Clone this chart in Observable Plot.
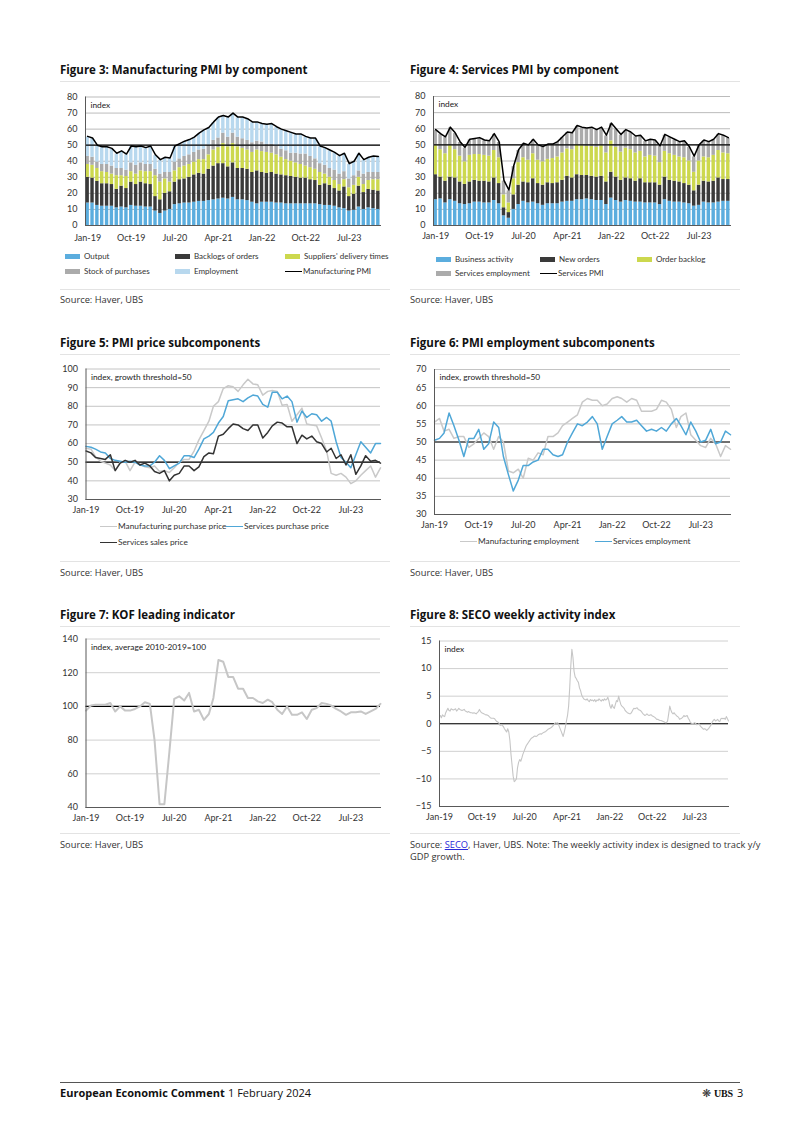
<!DOCTYPE html>
<html><head><meta charset="utf-8">
<script src="https://cdn.jsdelivr.net/npm/d3@7"></script>
<script src="https://cdn.jsdelivr.net/npm/@observablehq/plot@0.6"></script>
<style>
html,body{margin:0;padding:0;background:#fff;}
#page{position:relative;width:802px;height:1134px;overflow:hidden;font-family:"Open Sans","Noto Sans",sans-serif;color:#222;background:#fff;}
.abs{position:absolute;white-space:nowrap;}
.title{font-weight:700;font-size:11.5px;color:#111;}
.rule{position:absolute;height:0;border-top:1px solid #e3e3e3;}
.src{font-size:9.3px;color:#333;}
.leg{font-family:Lato,sans-serif;font-size:8px;color:#333;display:flex;align-items:center;}
.sw{display:inline-block;margin-right:4px;flex:none;}
#page svg{position:absolute;}
.foot{font-size:11px;color:#111;}
</style></head><body><div id="page"></div>
<script>
// ---------------- DATA ----------------
const tickLabels = ["Jan-19","Oct-19","Jul-20","Apr-21","Jan-22","Oct-22","Jul-23"];

// Figure 3: Manufacturing PMI components (contribution, Jan-19 .. Jan-24)
const mfgSeries = ["Output","Backlogs of orders","Suppliers' delivery times","Stock of purchases","Employment"];
const mfgOutput = [14,14,12.5,12,12,12,11,11.5,11,12.5, 12,12,11.5,11.5,9,7.5,9,10,13,13.5, 14,14,14.5,15,15,15.5,16,16.5,17,16.5, 17.5,16,16,15.5,14.5,13.5,14.5,14.5,14.5,14, 14,13.5,13.5,13.5,13.5,13.5,13.5,13.5,13,12.5, 12.5,12,11,10.5,9,9.5,11.5,10,11,10.5, 10];
const mfgBacklogs = [16,15.5,15,14,14,13.5,11.5,13,12,14.5, 13.5,15,14.5,14,9,8.5,11,11,14,15, 15,16,17,17.5,17,19.5,21,22,21.5,20, 21.5,19.5,19.5,19.5,18.5,20.5,18.5,18,18.5,18, 17.5,17.5,17,16.5,16,16,15,14.5,12,13.5, 12.5,11,10.5,13.5,9,10,13,10.5,11.5,11.5, 11.5];
const mfgDelivery = [8,8,8,7.5,7,6.5,8.5,6.5,7.5,6.5, 6.5,7,7.5,8,13,11,9,6,7,7.5, 8,8,8,8.5,9,9,10,10,12.5,12.5, 12,13.5,12.5,12,12.5,13,13,13,12,12, 11,10,9.5,9,8.5,7.5,7.5,7,8,6, 5,5,4,4.5,5.5,5.5,5.5,5,5.5,6.5, 7];
const mfgStock = [5,5,4,4.5,5,5,4.5,4.5,4,5.5, 5.5,5,4.5,4.5,4,5,4,6,5.5,5.5, 6,6,6,6,6.5,6,6,6,6.5,6, 6.5,6,6,6,6,5.5,6,5,5.5,5.5, 5,5.5,5,6,6.5,7.5,7,6.5,5.5,5.5, 5.5,6.5,6.5,5,5.5,6,4,6.5,5,4.5, 4.5];
const mfgEmployment = [12,11.5,10,10.5,10.5,10.5,9,10.5,9.5,10, 11,10,10,11,8.5,8.5,9,8.5,9.5,9, 9,9,9,10,11.5,10.5,11,12.5,10.5,12, 12,12,13,13,12.5,11.5,11,12,12.5,11.5, 12,12,12.5,11.5,12,10.5,11,12.5,10.5,10.5, 11,10.5,11,11,9,8.5,10.5,8.5,9,10, 10];
const mfgPMI = [55.5,54.5,50,49,49,48,45,46.5,44.5,49.5, 49,49.5,48.5,49.5,44,41,42.5,42,49.5,51, 52.5,53.5,55,57.5,59.5,61,64.5,67.5,68.5,67.5, 70,67.5,67.5,66.5,64.5,64.5,63.5,63,63.5,61.5, 60,59,58,57,57,55.5,54.5,54.5,49.5,48.5, 47,45.5,43.5,45,38.5,40,45,41,42.5,43.3, 43];

// Figure 4: Services PMI components
const svcSeries = ["Business activity","New orders","Order backlog","Services employment"];
const svcBusiness = [16,16.5,14,16,15,13.5,13,13.5,14.5,14.5, 14,14,15.5,13.5,6,4.5,10,13,15,14, 14.5,13.5,12.5,13.5,13.5,13.5,14.5,15,15,16, 16,16.5,16,15.5,15.5,13,17,15.5,14.5,15.5, 15,14.5,14.5,14,14,14,13,16,15,14.5, 14.5,14,13.5,12,12.5,14.5,14,14,14.5,15, 15];
const svcNewOrders = [15.5,13.5,13.5,14,14.5,13.5,12.5,13.5,13.5,13, 13.5,13,14,12.5,5,3.5,9,12,12,12.5, 14.5,12.5,12.5,13,12.5,13,13.5,15.5,14.5,15.5, 15,14.5,14.5,14.5,15,14,16,14.5,13.5,14, 14,13,14.5,12.5,12.5,12.5,12,14,13,13, 12.5,12,11.5,9.5,12.5,13,13,13.5,15,13.5, 13.5];
const svcBacklog = [18,17,17,19.5,17.5,16,14,16.5,16,16.5, 16,16,17,16,8,6,10,14,15,14, 15.5,14.5,14.5,14.5,15.5,16,17,17,17.5,18.5, 18.5,18,18.5,18.5,19,18,19.5,18.5,17.5,18.5, 18,17.5,17,16,17,16.5,14,16,16.5,16, 15.5,16,15,11.5,15,15,15,16,17,16.5, 16];
const svcEmployment = [9.5,9.5,10,11,10,8.5,8.5,9.5,9.5,10, 9,9,10,9.5,8.5,7.5,7.5,7.5,8.5,9, 8.5,9,9,9,8.5,9,9.5,10,10,11.5, 11,11,11.5,10.5,11,10.5,10.5,11,10.5,11, 10.5,10,9.5,9.5,9.5,9.5,10,10,10,9.5, 9,10,8.5,9.5,9.5,10,9.5,9.5,10,10.5, 9.5];
const svcPMI = [59.5,57,55,61,57.5,52,48.5,53.5,54,54.5, 53,52.5,57,52,28,22,37,47,51,50, 53.5,50,49,50.5,50.5,52,55,58,57.5,62, 61,60.5,61,59.5,61,56,63.5,60,56.5,59.5, 58,55.5,56,52.5,53.5,53,49.5,56.5,55,53.5, 52,52.5,49,43,50,53,52,53.5,57,56, 54.5];

// Figure 5: PMI price subcomponents
const priceSeries = ["Manufacturing purchase price","Services purchase price","Services sales price"];
const mfgPurchasePrice = [57.5,57,53,50.5,49.5,48.5,45.5,50,50.5,45.5, 50,49,47.5,47,48,45,45.5,44.5,47,50, 51.5,51.5,56,62,67,72,80,82.5,89.5,91, 90.5,88,91.5,94.5,92,91.5,86,88,88.5,88, 80.5,81,72,75.5,79,70.5,70,69.5,63,56, 44,43,44,42,38.5,40,43,45.5,48,42, 47];
const svcPurchasePrice = [58.5,58,57,55.5,55,52,51,50.5,50,50.5, 50,48.5,48,48,50,53.5,51,46.5,48,49.5, 53.5,53.5,52.5,57,62.5,64,66,71,74.5,83, 83.5,84,82.5,84.5,86,85.5,81,79.5,87.5,87.5, 84,85.5,82.5,71.5,77.5,74,76,75.5,72,74, 72,61,52.5,50,47,54,61,58,55,60, 60];
const svcSalesPrice = [56,55,52.5,52,51.5,54,45.5,49.5,51,50, 51,48.5,49.5,48,45,44,45.5,40,43,44, 48,48,45.5,47.5,53,55,54.5,64,65,68, 70.5,70,68,67,70,70,63,66,69.5,71.5, 71,69,69,60,64.5,62.5,64,61,60,55.5, 57.5,52,54,48.5,54,43.5,48,53.5,50.5,51, 49.5];

// Figure 6: PMI employment subcomponents
const empSeries = ["Manufacturing employment","Services employment"];
const mfgEmp = [55.5,56.5,53,53.5,51,51.5,51.5,48.5,49.5,51, 52.5,51.5,48,51.5,50,42,41.5,42.5,40,45.5, 45,47,46.5,51.5,51.5,52.5,54.5,55.5,56.5,57.5, 61,62,61.5,61.5,60,60.5,62,62.5,62,61, 62,61.5,58.5,58.5,58.5,59,61.5,61,59,54, 57,58,52,50.5,49,48.5,51,49.5,46,49, 48];
const svcEmp = [50.5,51,52.5,58,54.5,50.5,46,51,51,53.5, 48,49.5,55.5,54,46,41,36.5,39.5,43.5,43.5, 44.5,45,48,48,46.5,46,46.5,50,52.5,55, 54.5,55.5,57,55,48,51.5,55,56,57,55.5, 55.5,56,54.5,53,53.5,53,54,53,55,56.5, 54.5,52,55.5,53,50,50.5,53.5,49.5,50,53, 52];

// Figure 7: KOF economic barometer
const kof = [97.5,100.5,101,101,101,102,97,100,97.5,97.5, 98.5,100,102.5,101.5,80,42,42,73,104.5,106, 103.5,108,97,98,92,95.5,105,127.5,126.5,117.5, 117.5,110.5,110.5,105,105,103,102,104,102.5,98, 95.5,100,95,95,96.5,92.5,98,99,102,101.5, 100.5,98.5,97,95,96.5,96.5,97,95.5,97,98.5, 101.5];

// Figure 8: SECO weekly economic activity index (weekly, from 6 Jan 2019)
const seco = [1.5,1.1,1.6,1.4,1.3,2.0,2.4,2.8,2.4,2.3, 2.7,2.6,2.5,2.6,2.7,2.3,2.5,2.8,2.6,2.5,
 2.4,2.5,2.6,2.3,2.2,2.1,2.2,2.1,2.0,2.0, 1.9,2.0,1.9,1.8,2.0,2.2,2.6,2.2,2.0,1.9,
 1.8,1.7,1.6,1.6,1.5,1.3,1.1,1.0,1.0,1.0, 0.9,0.6,0.4,0.3,0.1,-0.3,-0.2,-0.3,-0.5,-0.9,
 -1.2,-1.5,-0.9,-1.5,-3.0,-5.5,-7.5,-9.5,-10.5,-10.3, -10.0,-8.0,-7.0,-6.5,-6.8,-6.2,-5.5,-5.0,-4.5,-4.0,
 -3.7,-3.4,-3.1,-2.8,-2.6,-2.5,-2.3,-2.2,-2.3,-2.2, -2.0,-1.9,-1.8,-1.9,-1.7,-1.6,-1.5,-1.4,-1.2,-1.0,
 -0.9,-0.8,-0.7,-0.5,-0.3,0.0,0.2,0.1,0.2,-0.3, -0.8,-1.3,-1.8,-2.3,-1.5,-0.6,0.5,1.5,3.2,6.5,
 10.5,13.5,12.0,9.5,8.5,8.2,7.8,7.5,6.5,6.0, 5.2,4.8,4.5,4.4,4.3,4.5,4.2,4.0,4.4,4.2,
 4.3,4.1,4.4,4.0,4.3,4.2,4.5,4.3,4.1,4.4, 4.2,4.5,4.3,4.4,4.8,4.2,3.2,2.8,3.5,3.0,
 2.8,3.5,4.2,4.0,5.0,4.2,3.5,3.2,3.0,2.8, 2.4,2.2,2.0,1.9,1.8,1.8,2.1,2.5,2.8,2.7,
 2.8,2.9,2.6,2.5,2.4,2.2,1.9,1.7,1.5,1.6, 1.8,1.6,1.5,1.6,1.6,1.4,1.3,1.2,1.0,0.8,
 0.8,0.7,0.6,0.6,0.5,0.4,0.3,0.2,0.2,0.5, 1.8,3.2,2.5,2.0,1.8,2.0,1.7,1.5,1.3,1.2,
 0.8,0.9,1.0,1.2,1.5,1.3,1.4,1.5,1.0,0.7, 0.2,0.1,0.0,0.1,0.2,0.0,-0.2,-0.1,0.0,-0.4,
 -0.6,-0.8,-1.0,-0.9,-1.0,-1.2,-1.0,-0.8,-0.5,-0.2, 0.3,0.6,0.8,0.5,0.6,0.8,0.5,0.4,0.9,1.0,
 0.9,1.0,0.8,1.3,0.9,0.5];

// ---------------- HELPERS ----------------
const page = document.getElementById("page");
const months = d3.utcMonth.range(new Date(Date.UTC(2019,0,1)), new Date(Date.UTC(2024,1,1)));
const secoDates = seco.map((_, i) => d3.utcWeek.offset(new Date(Date.UTC(2019,0,6)), i));
const fmt = d3.utcFormat("%b-%y");
const tickDates = tickLabels.map(d3.utcParse("%b-%y"));

function put(el, x, y){ el.style.left = x + "px"; el.style.top = y + "px"; page.appendChild(el); return el; }
function label(html, cls, x, yc, lh = 14){
  const d = document.createElement("div"); d.className = "abs " + cls; d.style.lineHeight = lh + "px"; d.innerHTML = html;
  return put(d, x, yc - lh / 2);
}
function hline(x1, x2, y, color){
  const d = document.createElement("div"); d.className = "rule"; d.style.width = (x2 - x1) + "px";
  if (color) d.style.borderTopColor = color; return put(d, x1, y);
}
function legendItem(name, color, kind, x, yc, fs){
  const d = document.createElement("div"); d.className = "abs leg"; d.style.height = "12px";
  if (fs) d.style.fontSize = fs + "px";
  const sw = document.createElement("span"); sw.className = "sw";
  if (kind === "bar") { sw.style.width = "15px"; sw.style.height = "5px"; sw.style.background = color; }
  else { sw.style.width = "17px"; sw.style.height = "0"; sw.style.borderTop = "1.6px solid " + color; sw.style.marginRight = "1px"; }
  d.appendChild(sw); d.appendChild(document.createTextNode(name));
  return put(d, x, yc - 6);
}
function long(seriesNames, arrays, dates){
  const out = [];
  arrays.forEach((arr, s) => arr.forEach((v, i) => out.push({date: dates[i], series: seriesNames[s], value: v})));
  return out;
}
function frameOpts(o){
  return {width: o.w, height: o.h, marginLeft: o.ml, marginRight: o.mr, marginTop: o.mt, marginBottom: o.mb,
    style: {fontFamily: "Lato, sans-serif", fontSize: "9px", color: "#333", background: "transparent", overflow: "visible"}};
}
function axisMarks(yTicks, tp){
  return [
    Plot.frame({anchor: "left", stroke: "#595959"}),
    Plot.frame({anchor: "bottom", stroke: "#595959"}),
    Plot.axisY(yTicks, {tickSize: 0, tickPadding: 8, fontSize: 9, label: null, fill: "#333"}),
    Plot.axisX(tickDates, {tickSize: 0, tickPadding: tp, tickFormat: fmt, fontSize: 9, label: null, fill: "#333"})
  ];
}
function note(t){ return Plot.text([t], {frameAnchor: "top-left", dx: 5, dy: 5, fontSize: 8.3, fill: "#222"}); }
function place(svg, x, y){ svg.style.left = x + "px"; svg.style.top = y + "px"; page.appendChild(svg); }

// ---------------- TEXT / LAYOUT ----------------
const titles = [
  ["Figure 3: Manufacturing PMI by component", 60, 70], ["Figure 4: Services PMI by component", 410, 70],
  ["Figure 5: PMI price subcomponents", 60, 343], ["Figure 6: PMI employment subcomponents", 410, 343],
  ["Figure 7: KOF leading indicator", 60, 615], ["Figure 8: SECO weekly activity index", 410, 615]
];
titles.forEach(([t, x, y]) => { label(t, "title", x, y, 16); hline(x, x + 330, y + 11); });
[[60, 289, 300], [410, 289, 300], [60, 561, 573], [410, 561, 573], [60, 833, 845]].forEach(([x, yl, yt]) => {
  hline(x, x + 330, yl); label("Source: Haver, UBS", "src", x, yt, 12);
});
hline(410, 740, 833);
label('Source: <span style="color:#2a2ad8;text-decoration:underline">SECO</span>, Haver, UBS. Note: The weekly activity index is designed to track y/y<br>GDP growth.', "src", 410, 845, 12);

// ---------------- FIGURE 3 ----------------
const mfgColors = ["#5badde","#3a3a3a","#ccd84e","#ababab","#b8d8ee"];
{
  const data = long(mfgSeries, [mfgOutput, mfgBacklogs, mfgDelivery, mfgStock, mfgEmployment], months);
  const o = {w: 335, h: 157, ml: 30, mr: 10, mt: 8.5, mb: 20};
  const svg = Plot.plot({...frameOpts(o),
    x: {type: "band", domain: months, paddingInner: 0.3, paddingOuter: 0.1, round: false},
    y: {domain: [0, 80]},
    color: {domain: mfgSeries, range: mfgColors},
    marks: [
      Plot.gridY(d3.range(10, 81, 10), {stroke: "#a9a9a9", strokeOpacity: 1, strokeWidth: 0.8}),
      Plot.barY(data, {x: "date", y: "value", fill: "series"}),
      Plot.ruleY([50], {stroke: "#000", strokeWidth: 1.2}),
      Plot.lineY(mfgPMI.map((v, i) => ({date: months[i], value: v})), {x: "date", y: "value", stroke: "#000", strokeWidth: 1.5}),
      ...axisMarks(d3.range(0, 81, 10), 9),
      note("index")
    ]});
  place(svg, 55, 88);
  const cols = [65, 175, 285];
  mfgSeries.forEach((s, i) => legendItem(s, mfgColors[i], "bar", cols[i % 3], i < 3 ? 256 : 271));
  legendItem("Manufacturing PMI", "#000", "line", cols[2], 271);
}

// ---------------- FIGURE 4 ----------------
const svcColors = ["#5badde","#3a3a3a","#ccd84e","#ababab"];
{
  const data = long(svcSeries, [svcBusiness, svcNewOrders, svcBacklog, svcEmployment], months);
  const o = {w: 335, h: 157, ml: 28, mr: 10, mt: 8, mb: 20};
  const svg = Plot.plot({...frameOpts(o),
    x: {type: "band", domain: months, paddingInner: 0.3, paddingOuter: 0.1, round: false},
    y: {domain: [0, 80]},
    color: {domain: svcSeries, range: svcColors},
    marks: [
      Plot.gridY(d3.range(10, 81, 10), {stroke: "#a9a9a9", strokeOpacity: 1, strokeWidth: 0.8}),
      Plot.barY(data, {x: "date", y: "value", fill: "series"}),
      Plot.ruleY([50], {stroke: "#000", strokeWidth: 1.2}),
      Plot.lineY(svcPMI.map((v, i) => ({date: months[i], value: v})), {x: "date", y: "value", stroke: "#000", strokeWidth: 1.5}),
      ...axisMarks(d3.range(0, 81, 10), 7),
      note("index")
    ]});
  place(svg, 405, 88);
  const cols = [436, 540, 637];
  svcSeries.forEach((s, i) => legendItem(s, svcColors[i], "bar", cols[i % 3], i < 3 ? 259 : 273));
  legendItem("Services PMI", "#000", "line", cols[1], 273);
}

// ---------------- FIGURE 5 ----------------
const priceColors = ["#c9c9c9","#4fa7d7","#333333"];
{
  const data = long(priceSeries, [mfgPurchasePrice, svcPurchasePrice, svcSalesPrice], months);
  const o = {w: 335, h: 159, ml: 30.5, mr: 10, mt: 8.5, mb: 20};
  const svg = Plot.plot({...frameOpts(o),
    x: {type: "utc", domain: [months[0], months[60]]},
    y: {domain: [30, 100]},
    color: {domain: priceSeries, range: priceColors},
    marks: [
      Plot.gridY(d3.range(40, 101, 10), {stroke: "#b5b5b5", strokeOpacity: 1, strokeWidth: 0.8}),
      Plot.ruleY([50], {stroke: "#000", strokeWidth: 1.2}),
      Plot.line(data, {x: "date", y: "value", z: "series", stroke: "series", strokeWidth: 1.5}),
      ...axisMarks(d3.range(30, 101, 10), 7),
      note("index, growth threshold=50")
    ]});
  place(svg, 55, 360);
  legendItem(priceSeries[0], priceColors[0], "line", 100, 526, 8.3);
  legendItem(priceSeries[1], priceColors[1], "line", 226, 526, 8.3);
  legendItem(priceSeries[2], priceColors[2], "line", 100, 542, 8.3);
}

// ---------------- FIGURE 6 ----------------
const empColors = ["#c9c9c9","#4fa7d7"];
{
  const data = long(empSeries, [mfgEmp, svcEmp], months);
  const o = {w: 335, h: 174, ml: 29, mr: 10, mt: 9, mb: 20};
  const svg = Plot.plot({...frameOpts(o),
    x: {type: "utc", domain: [months[0], months[60]]},
    y: {domain: [30, 70]},
    color: {domain: empSeries, range: empColors},
    marks: [
      Plot.gridY(d3.range(35, 71, 5), {stroke: "#b5b5b5", strokeOpacity: 1, strokeWidth: 0.8}),
      Plot.ruleY([50], {stroke: "#000", strokeWidth: 1.2}),
      Plot.line(data, {x: "date", y: "value", z: "series", stroke: "series", strokeWidth: 1.5}),
      ...axisMarks(d3.range(30, 71, 5), 7),
      note("index, growth threshold=50")
    ]});
  place(svg, 405, 360);
  legendItem(empSeries[0], empColors[0], "line", 460, 541, 8.3);
  legendItem(empSeries[1], empColors[1], "line", 595, 541, 8.3);
}

// ---------------- FIGURE 7 ----------------
{
  const o = {w: 335, h: 197, ml: 30.5, mr: 10, mt: 8.5, mb: 20};
  const svg = Plot.plot({...frameOpts(o),
    x: {type: "utc", domain: [months[0], months[60]]},
    y: {domain: [40, 140]},
    marks: [
      Plot.gridY(d3.range(60, 141, 20), {stroke: "#c4c4c4", strokeOpacity: 1, strokeWidth: 0.8}),
      Plot.ruleY([100], {stroke: "#000", strokeWidth: 1.2}),
      Plot.lineY(kof.map((v, i) => ({date: months[i], value: v})), {x: "date", y: "value", stroke: "#c6c6c6", strokeWidth: 2}),
      ...axisMarks(d3.range(40, 141, 20), 7.5),
      note("index, average 2010-2019=100")
    ]});
  place(svg, 55, 630);
}

// ---------------- FIGURE 8 ----------------
{
  const o = {w: 335, h: 196, ml: 34, mr: 12, mt: 10.5, mb: 20};
  const svg = Plot.plot({...frameOpts(o),
    x: {type: "utc", domain: [new Date(Date.UTC(2019,0,1)), secoDates[secoDates.length - 1]]},
    y: {domain: [-15, 15]},
    marks: [
      Plot.gridY(d3.range(-10, 16, 5), {stroke: "#c4c4c4", strokeOpacity: 1, strokeWidth: 0.8}),
      Plot.ruleY([0], {stroke: "#000", strokeWidth: 1.2}),
      Plot.lineY(seco.map((v, i) => ({date: secoDates[i], value: v})), {x: "date", y: "value", stroke: "#c6c6c6", strokeWidth: 1.1}),
      ...axisMarks(d3.range(-15, 16, 5), 7),
      note("index")
    ]});
  place(svg, 405, 630);
}

// ---------------- FOOTER ----------------
hline(60, 740, 1082, "#555");
label("<b>European Economic Comment</b>", "foot", 60, 1093, 14);
label("1 February 2024", "foot", 228, 1093, 14);
label('<span style="font-size:11px;color:#333">&#10059;</span>', "foot", 702, 1093, 14);
label('<span style="font-family:\'Liberation Serif\',serif;font-weight:700;font-size:10px;letter-spacing:-0.2px">UBS</span>', "foot", 714, 1093, 14);
label("3", "foot", 737, 1093, 14);
</script></body></html>
